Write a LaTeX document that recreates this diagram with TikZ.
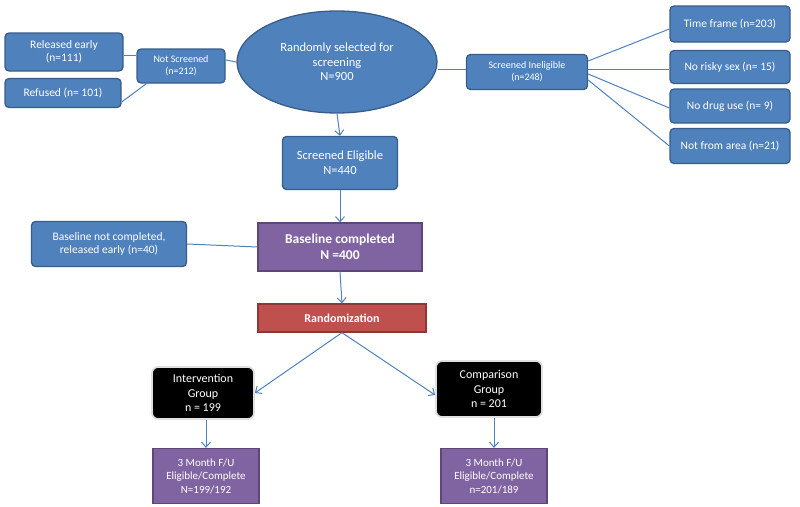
\documentclass[tikz,border=0pt]{standalone}
\usepackage{fontspec}
\setmainfont{Carlito}
\usetikzlibrary{shapes, arrows.meta, positioning}
\definecolor{boxblue}{HTML}{4F81BD}
\definecolor{blueedge}{HTML}{385D8A}
\definecolor{boxpurple}{HTML}{8064A2}
\definecolor{purpleedge}{HTML}{5C4776}
\definecolor{boxred}{HTML}{C0504D}
\definecolor{rededge}{HTML}{8C3836}

\begin{document}
\begin{tikzpicture}[x=1pt, y=-1pt,
	bluebox/.style={draw=blueedge, line width=1.3pt, fill=boxblue, rounded corners=4pt, text=white, align=center, inner sep=1pt, font=\fontsize{11.5}{13.5}\selectfont},
	purplebox/.style={draw=purpleedge, line width=1.3pt, fill=boxpurple, text=white, align=center, inner sep=1pt, font=\fontsize{11}{13.5}\selectfont},
	groupbox/.style={draw=black!12, line width=1.8pt, fill=black, rounded corners=6pt, text=white, align=center, inner sep=1pt, font=\fontsize{12}{14.5}\selectfont},
	link/.style={boxblue, line width=1pt},
	arr/.style={link, -{Straight Barb[length=5pt, width=9pt]}}]
	\useasboundingbox (0,0) rectangle (800,506);
	% screening
	\node[bluebox, draw=blueedge, ellipse, minimum width=200pt, minimum height=102pt, font=\fontsize{12.5}{14.5}\selectfont] (select) at (337,62) {Randomly selected for\\screening\\N=900};
	\node[bluebox, minimum width=88pt, minimum height=34pt, font=\fontsize{10}{12}\selectfont] (notscr) at (181,66) {Not Screened\\(n=212)};
	\node[bluebox, minimum width=118pt, minimum height=38pt] (early) at (64,52) {Released early\\(n=111)};
	\node[bluebox, minimum width=116pt, minimum height=29pt] (refused) at (63,93) {Refused (n= 101)};
	\node[bluebox, minimum width=121pt, minimum height=35pt, font=\fontsize{10}{12}\selectfont] (inelig) at (527,72) {Screened Ineligible\\(n=248)};
	\node[bluebox, minimum width=120pt, minimum height=36pt] (timeframe) at (730,24) {Time frame (n=203)};
	\node[bluebox, minimum width=120pt, minimum height=33pt] (nosex) at (730,67) {No risky sex (n= 15)};
	\node[bluebox, minimum width=120pt, minimum height=34pt] (nodrug) at (730,106) {No drug use (n= 9)};
	\node[bluebox, minimum width=120pt, minimum height=35pt] (noarea) at (730,146) {Not from area (n=21)};
	\node[bluebox, minimum width=115pt, minimum height=53pt, font=\fontsize{12.5}{15}\selectfont] (elig) at (340,163) {Screened Eligible\\N=440};
	% baseline
	\node[purplebox, minimum width=164pt, minimum height=48pt, font=\bfseries\fontsize{13.5}{16}\selectfont] (base) at (340,247) {Baseline completed\\N =400};
	\node[bluebox, minimum width=155pt, minimum height=45pt] (notbase) at (109,244) {Baseline not completed,\\released early (n=40)};
	\node[purplebox, draw=rededge, fill=boxred, minimum width=168pt, minimum height=28pt, font=\bfseries\fontsize{12}{14}\selectfont] (rand) at (342,318) {Randomization};
	% groups
	\node[groupbox, minimum width=102pt, minimum height=52pt] (interv) at (203,393) {Intervention\\Group\\n = 199};
	\node[groupbox, minimum width=106pt, minimum height=56pt] (comp) at (489,389) {Comparison\\Group\\n = 201};
	\node[purplebox, minimum width=106pt, minimum height=55pt] (fuone) at (206,476) {3 Month F/U\\Eligible/Complete\\N=199/192};
	\node[purplebox, minimum width=106pt, minimum height=55pt] (futwo) at (494,476) {3 Month F/U\\Eligible/Complete\\n=201/189};
	% connectors
	\draw[link] ([yshift=-3pt]early.east) -- ([yshift=11pt]notscr.west);
	\draw[link] ([yshift=-9pt]refused.east) -- ([xshift=10pt]notscr.south west);
	\draw[link] ([yshift=6pt]notscr.east) -- (select.west);
	\draw[link] ([yshift=3pt]inelig.west) -- ([yshift=3pt]inelig.west -| select.east);
	\draw[link] ([yshift=11pt]inelig.east) -- ([yshift=-5pt]timeframe.west);
	\draw[link] ([yshift=3pt]inelig.east) -- ([yshift=-2pt]nosex.west);
	\draw[link] ([yshift=-2pt]inelig.east) -- ([yshift=-2pt]nodrug.west);
	\draw[link] ([yshift=-8pt]inelig.east) -- (noarea.west);
	\draw[arr] (select.south) -- (elig.north);
	\draw[arr] (elig.south) -- (base.north);
	\draw[link] (notbase.east) -- (base.west);
	\draw[arr] (base.south) -- (rand.north);
	\draw[arr] (rand.south) -- (interv.east);
	\draw[arr] (rand.south) -- ([yshift=-6pt]comp.west);
	\draw[arr] (fuone.north |- interv.south) -- (fuone.north);
	\draw[arr] (futwo.north |- comp.south) -- (futwo.north);
\end{tikzpicture}
\end{document}
